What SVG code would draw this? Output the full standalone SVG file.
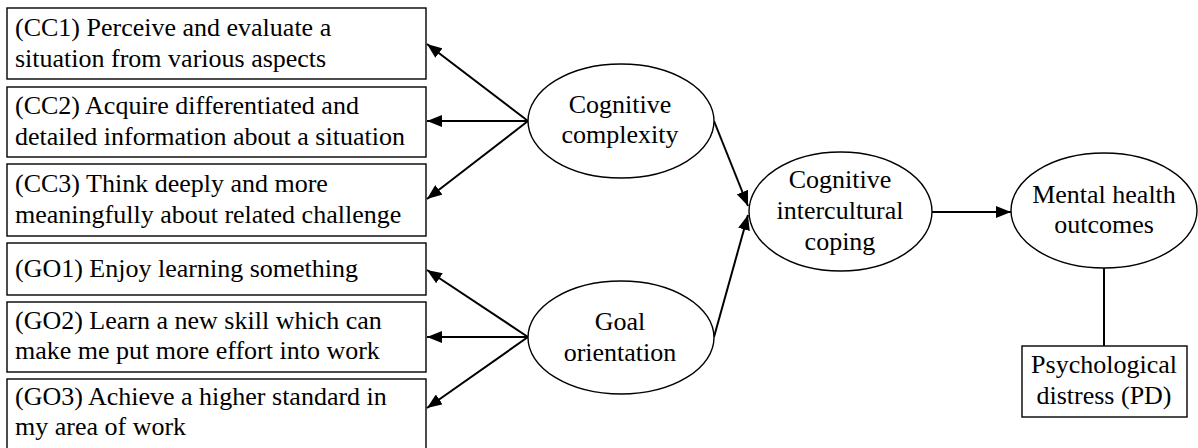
<svg xmlns="http://www.w3.org/2000/svg" width="1198" height="448" viewBox="0 0 1198 448">
  <defs>
    <marker id="arrow" markerUnits="userSpaceOnUse" markerWidth="15" markerHeight="12" refX="15" refY="6" orient="auto">
      <path d="M0,0 L15,6 L0,12 z" fill="#000"/>
    </marker>
    <style>
      .box { fill: #fff; stroke: #000; stroke-width: 1.4; }
      .ell { fill: #fff; stroke: #000; stroke-width: 1.4; }
      .lbl { font-family: "Liberation Serif", "Times New Roman", serif; font-size: 26px; fill: #000; }
      .mid { text-anchor: middle; }
      .edge { stroke: #000; stroke-width: 2; fill: none; }
      .arr { marker-end: url(#arrow); }
    </style>
  </defs>

  <rect width="1198" height="448" fill="#fff"/>

  <!-- connectors -->
  <g id="connectors">
    <line class="edge arr" x1="528" y1="121" x2="427" y2="44"/>
    <line class="edge arr" x1="528" y1="121" x2="427" y2="121"/>
    <line class="edge arr" x1="528" y1="121" x2="427" y2="199"/>
    <line class="edge arr" x1="528" y1="337" x2="427" y2="270"/>
    <line class="edge arr" x1="528" y1="337" x2="427" y2="337"/>
    <line class="edge arr" x1="528" y1="337" x2="427" y2="408"/>
    <line class="edge arr" x1="714" y1="121" x2="748" y2="206"/>
    <line class="edge arr" x1="714" y1="337" x2="748" y2="215"/>
    <line class="edge arr" x1="932" y1="212" x2="1011" y2="212"/>
    <line class="edge" x1="1104" y1="268" x2="1104" y2="346"/>
  </g>

  <!-- indicator boxes -->
  <g id="cc1">
    <rect class="box" x="7" y="8" width="419" height="71"/>
    <text class="lbl" x="15" y="36">(CC1) Perceive and evaluate a</text>
    <text class="lbl" x="15" y="67">situation from various aspects</text>
  </g>
  <g id="cc2">
    <rect class="box" x="7" y="87" width="419" height="70"/>
    <text class="lbl" x="15" y="114">(CC2) Acquire differentiated and</text>
    <text class="lbl" x="15" y="145">detailed information about a situation</text>
  </g>
  <g id="cc3">
    <rect class="box" x="7" y="164" width="419" height="72"/>
    <text class="lbl" x="15" y="192">(CC3) Think deeply and more</text>
    <text class="lbl" x="15" y="223">meaningfully about related challenge</text>
  </g>
  <g id="go1">
    <rect class="box" x="7" y="243" width="419" height="52"/>
    <text class="lbl" x="15" y="277">(GO1) Enjoy learning something</text>
  </g>
  <g id="go2">
    <rect class="box" x="7" y="302" width="419" height="70"/>
    <text class="lbl" x="15" y="329">(GO2) Learn a new skill which can</text>
    <text class="lbl" x="15" y="359">make me put more effort into work</text>
  </g>
  <g id="go3">
    <rect class="box" x="7" y="379" width="419" height="72"/>
    <text class="lbl" x="15" y="405">(GO3) Achieve a higher standard in</text>
    <text class="lbl" x="15" y="435">my area of work</text>
  </g>

  <!-- latent constructs -->
  <g id="cognitive-complexity">
    <ellipse class="ell" cx="621" cy="121" rx="93" ry="57"/>
    <text class="lbl mid" x="620" y="113">Cognitive</text>
    <text class="lbl mid" x="620" y="143">complexity</text>
  </g>
  <g id="goal-orientation">
    <ellipse class="ell" cx="621" cy="337.5" rx="93" ry="56.5"/>
    <text class="lbl mid" x="620" y="330">Goal</text>
    <text class="lbl mid" x="620" y="361">orientation</text>
  </g>
  <g id="coping">
    <ellipse class="ell" cx="840.5" cy="211.5" rx="91.5" ry="59.5"/>
    <text class="lbl mid" x="840" y="188">Cognitive</text>
    <text class="lbl mid" x="840" y="219">intercultural</text>
    <text class="lbl mid" x="840" y="250">coping</text>
  </g>
  <g id="mental-health">
    <ellipse class="ell" cx="1104" cy="210.5" rx="93" ry="57.5"/>
    <text class="lbl mid" x="1104" y="203">Mental health</text>
    <text class="lbl mid" x="1104" y="233">outcomes</text>
  </g>
  <g id="pd">
    <rect class="box" x="1022" y="346" width="165" height="71"/>
    <text class="lbl mid" x="1104" y="373">Psychological</text>
    <text class="lbl mid" x="1104" y="404">distress (PD)</text>
  </g>
</svg>
